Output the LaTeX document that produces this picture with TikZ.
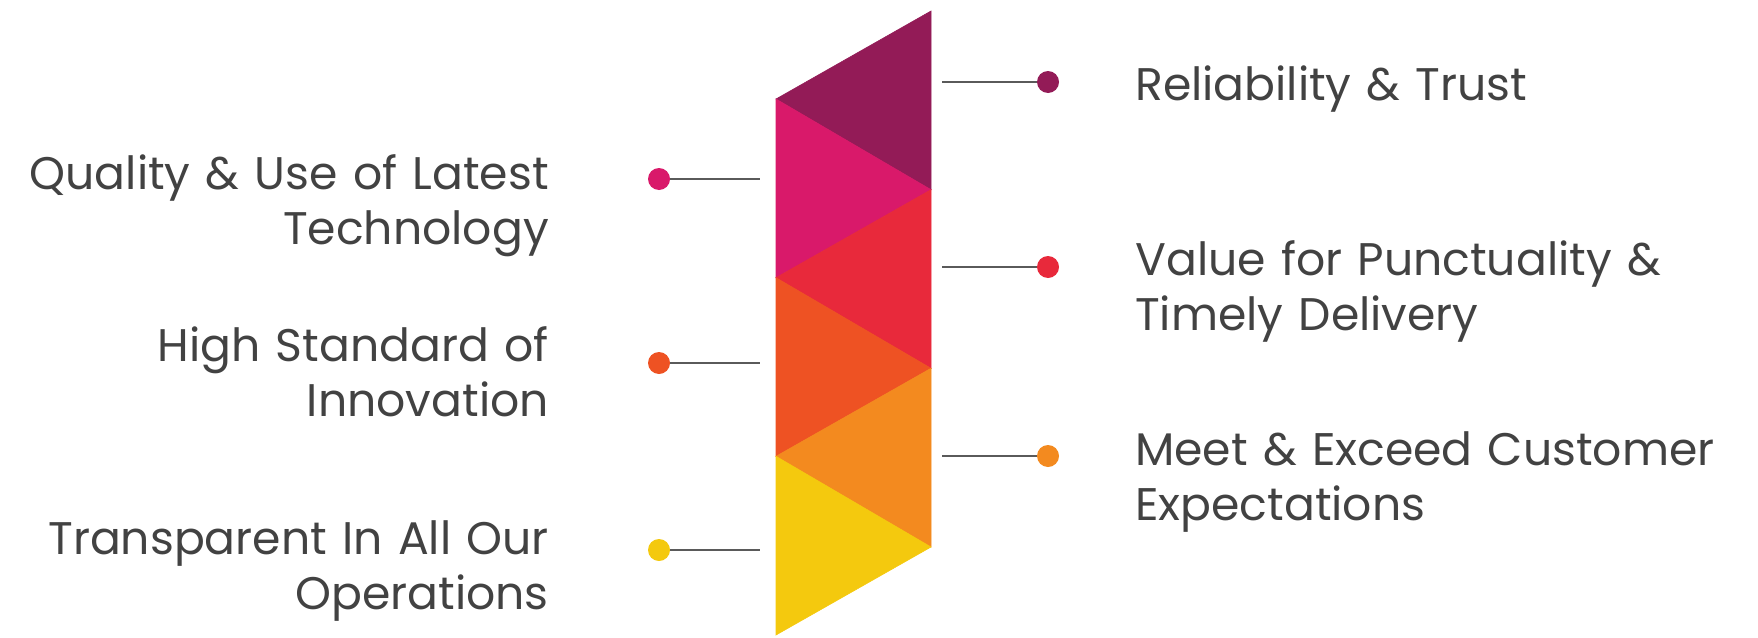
\documentclass[tikz,border=0pt]{standalone}
\usepackage{fontspec}
\setmainfont{Poppins}
\usepackage{xcolor}
\usepackage{tikz}
\definecolor{c1}{HTML}{931B57}
\definecolor{c2}{HTML}{D9196A}
\definecolor{c3}{HTML}{E8293B}
\definecolor{c4}{HTML}{EE5223}
\definecolor{c5}{HTML}{F38A1F}
\definecolor{c6}{HTML}{F4C90E}
\definecolor{txt}{HTML}{424242}
\definecolor{ln}{HTML}{5A5A5A}

\begin{document}
\begin{tikzpicture}[x=1pt, y=-1pt,
        dot/.style={circle, fill=#1, inner sep=0pt, minimum size=22pt},
        lbl/.style={text=txt, font=\fontsize{45.7}{55}\selectfont, inner sep=0pt, text width=620pt},
        conn/.style={ln, line width=2pt}]
        \useasboundingbox (0, 0) rectangle (1758, 637);

        % ribbon corners
        \coordinate (L0) at (776, 99);
        \coordinate (L1) at (776, 277.7);
        \coordinate (L2) at (776, 456.3);
        \coordinate (L3) at (776, 635);
        \coordinate (R0) at (931, 11);
        \coordinate (R1) at (931, 189.7);
        \coordinate (R2) at (931, 368.3);
        \coordinate (R3) at (931, 547);

        \filldraw [c1, line width=0.6pt] (L0) -- (R0) -- (R1) -- cycle;
        \filldraw [c2, line width=0.6pt] (L0) -- (R1) -- (L1) -- cycle;
        \filldraw [c3, line width=0.6pt] (R1) -- (L1) -- (R2) -- cycle;
        \filldraw [c4, line width=0.6pt] (L1) -- (R2) -- (L2) -- cycle;
        \filldraw [c5, line width=0.6pt] (R2) -- (L2) -- (R3) -- cycle;
        \filldraw [c6, line width=0.6pt] (L2) -- (R3) -- (L3) -- cycle;

        % right side
        \coordinate (A) at (942, 82);
        \coordinate (B) at (942, 267);
        \coordinate (C) at (942, 456);
        \node [dot=c1] (dA) at (1048, 82) {};
        \node [dot=c3] (dB) at (1048, 267) {};
        \node [dot=c5] (dC) at (1048, 456) {};
        \draw [conn] (A) -- (dA);
        \draw [conn] (B) -- (dB);
        \draw [conn] (C) -- (dC);
        \node [lbl, align=left, anchor=base west] (tA) at (1135, 100) {Reliability \& Trust};
        \node [lbl, align=left, anchor=base west] (tB) at (1135, 275) {Value for Punctuality \&\\Timely Delivery};
        \node [lbl, align=left, anchor=base west] (tC) at (1135, 465) {Meet \& Exceed Customer\\Expectations};

        % left side
        \coordinate (AA) at (760, 179);
        \coordinate (BB) at (760, 363);
        \coordinate (CC) at (760, 550);
        \node [dot=c2] (dAA) at (659, 179) {};
        \node [dot=c4] (dBB) at (659, 363) {};
        \node [dot=c6] (dCC) at (659, 550) {};
        \draw [conn] (dAA) -- (AA);
        \draw [conn] (dBB) -- (BB);
        \draw [conn] (dCC) -- (CC);
        \node [lbl, align=right, anchor=base east] (tAA) at (549, 189) {Quality \& Use of Latest\\Technology};
        \node [lbl, align=right, anchor=base east] (tBB) at (549, 361) {High Standard of\\Innovation};
        \node [lbl, align=right, anchor=base east] (tCC) at (549, 554) {Transparent In All Our\\Operations};
\end{tikzpicture}
\end{document}
